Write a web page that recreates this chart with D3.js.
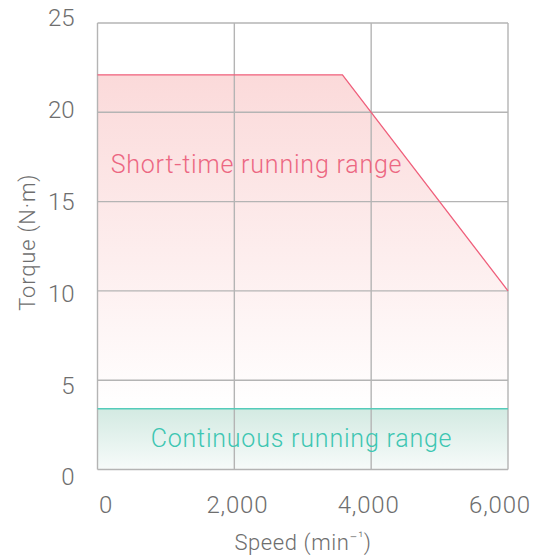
<!DOCTYPE html>
<html>
<head>
<meta charset="utf-8">
<script src="https://cdn.jsdelivr.net/npm/d3@7"></script>
<style>
  html, body { margin: 0; padding: 0; background: #fff; }
  svg { display: block; font-family: Roboto, "Noto Sans", sans-serif; font-weight: 300; }
</style>
</head>
<body>
<div id="chart"></div>
<script>
// chart values
var shortSpeed = [0, 3580, 6000];
var shortTorque = [22.1, 22.1, 10];
var contSpeed = [0, 6000];
var contTorque = [3.4, 3.4];
var xTicks = [0, 2000, 4000, 6000];
var yTicks = [0, 5, 10, 15, 20, 25];
var shortLabel = "Short-time running range";
var contLabel = "Continuous running range";

var W = 543, H = 558;
var plot = {left: 97.5, top: 23, right: 508, bottom: 469.5};

var x = d3.scaleLinear().domain([0, 6000]).range([plot.left, plot.right]);
var y = d3.scaleLinear().domain([0, 25]).range([plot.bottom, plot.top]);
// tick labels sit a little wider than the grid in the original
var xLab = d3.scaleLinear().domain([0, 6000]).range([106, 500]);
var yLab = d3.scaleLinear().domain([0, 25]).range([477, 17.5]);

var svg = d3.select("#chart").append("svg").attr("width", W).attr("height", H);
var defs = svg.append("defs");

var pinkGrad = defs.append("linearGradient").attr("id", "pinkGrad")
  .attr("gradientUnits", "userSpaceOnUse")
  .attr("x1", 0).attr("x2", 0).attr("y1", y(22)).attr("y2", y(3.4));
pinkGrad.append("stop").attr("offset", 0).attr("stop-color", "#fbdada");
pinkGrad.append("stop").attr("offset", 0.55).attr("stop-color", "#fdeeee");
pinkGrad.append("stop").attr("offset", 1).attr("stop-color", "#ffffff");

var tealGrad = defs.append("linearGradient").attr("id", "tealGrad")
  .attr("gradientUnits", "userSpaceOnUse")
  .attr("x1", 0).attr("x2", 0).attr("y1", y(3.4)).attr("y2", y(0));
tealGrad.append("stop").attr("offset", 0).attr("stop-color", "#d3eae2");
tealGrad.append("stop").attr("offset", 1).attr("stop-color", "#f7fbfa");

var shortPts = shortSpeed.map(function(s, i) { return [s, shortTorque[i]]; });
var contPts = contSpeed.map(function(s, i) { return [s, contTorque[i]]; });

// fills
svg.append("path")
  .datum(shortPts)
  .attr("fill", "url(#pinkGrad)")
  .attr("d", d3.area().x(function(d) { return x(d[0]); }).y0(y(0)).y1(function(d) { return y(d[1]); }));

svg.append("path")
  .datum(contPts)
  .attr("fill", "url(#tealGrad)")
  .attr("d", d3.area().x(function(d) { return x(d[0]); }).y0(y(0)).y1(function(d) { return y(d[1]); }));

// grid
var grid = svg.append("g").attr("stroke", "#b4b4b4").attr("stroke-width", 1.4).attr("fill", "none");
grid.selectAll("line.v").data(xTicks).enter().append("line")
  .attr("x1", x).attr("x2", x).attr("y1", y(25)).attr("y2", y(0));
grid.selectAll("line.h").data(yTicks).enter().append("line")
  .attr("y1", y).attr("y2", y).attr("x1", x(0)).attr("x2", x(6000));

// lines
svg.append("path")
  .datum(shortPts)
  .attr("fill", "none").attr("stroke", "#ef5f7b").attr("stroke-width", 1.3)
  .attr("d", d3.line().x(function(d) { return x(d[0]); }).y(function(d) { return y(d[1]); }));

svg.append("path")
  .datum(contPts)
  .attr("fill", "none").attr("stroke", "#55ccba").attr("stroke-width", 1.6)
  .attr("d", d3.line().x(function(d) { return x(d[0]); }).y(function(d) { return y(d[1]); }));

// region labels
svg.append("text")
  .attr("x", 256.5).attr("y", 173)
  .attr("text-anchor", "middle")
  .attr("font-size", 25).attr("letter-spacing", 0.8).attr("fill", "#ec6782")
  .text(shortLabel);

svg.append("text")
  .attr("x", 301.5).attr("y", 446.5)
  .attr("text-anchor", "middle")
  .attr("font-size", 25).attr("letter-spacing", 0.8).attr("fill", "#3dc6b2")
  .text(contLabel);

// tick labels
var fmt = d3.format(",");
svg.append("g").selectAll("text").data(xTicks).enter().append("text")
  .attr("x", xLab).attr("y", 513)
  .attr("text-anchor", "middle")
  .attr("font-size", 24).attr("letter-spacing", 0.8).attr("fill", "#6e6e6e")
  .text(fmt);

svg.append("g").selectAll("text").data(yTicks).enter().append("text")
  .attr("x", 74.5).attr("y", yLab).attr("dy", "0.35em")
  .attr("text-anchor", "end")
  .attr("font-size", 24).attr("fill", "#6e6e6e")
  .text(function(d) { return d; });

// axis titles
var xt = svg.append("text")
  .attr("x", 303).attr("y", 550)
  .attr("text-anchor", "middle")
  .attr("font-size", 22).attr("letter-spacing", 0.6).attr("fill", "#6e6e6e")
  .text("Speed (min");
xt.append("tspan").attr("font-size", 14).attr("dy", -8).text("\u2212\u00b9");
xt.append("tspan").attr("dy", 8).text(")");

svg.append("text")
  .attr("transform", "translate(35," + ((plot.top + plot.bottom) / 2 - 4) + ") rotate(-90)")
  .attr("text-anchor", "middle")
  .attr("font-size", 22).attr("letter-spacing", 0.8).attr("fill", "#6e6e6e")
  .text("Torque (N\u00b7m)");
</script>
</body>
</html>
